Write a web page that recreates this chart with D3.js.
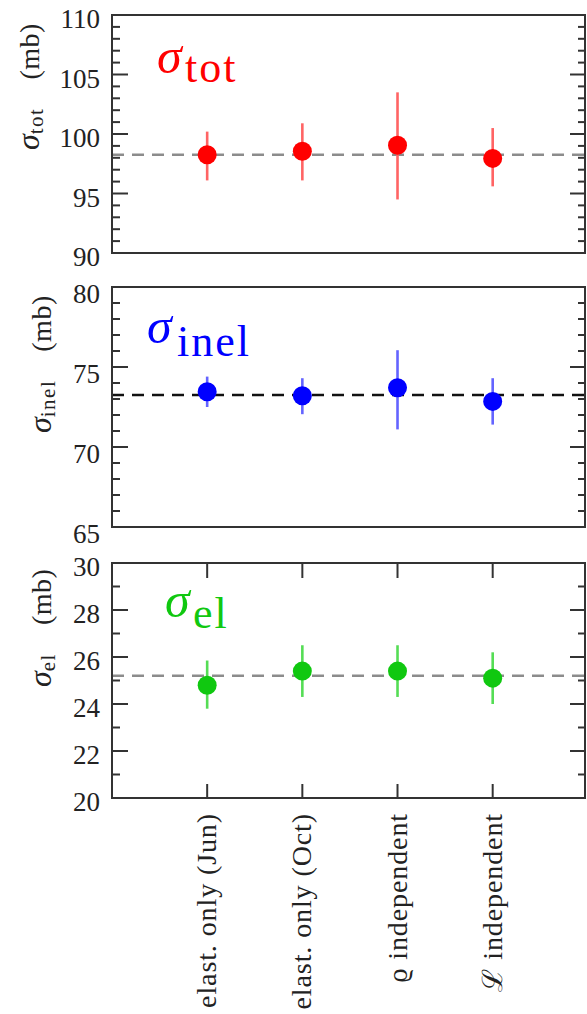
<!DOCTYPE html>
<html>
<head>
<meta charset="utf-8">
<script src="https://cdn.jsdelivr.net/npm/d3@7"></script>
<style>
  html, body { margin: 0; padding: 0; background: #fff; }
  svg { display: block; }
  text { font-family: "Liberation Serif", "DejaVu Serif", serif; fill: #222; }
</style>
</head>
<body>
<svg id="chart" width="587" height="1014"></svg>
<script>
// ---------- data ----------
const categories = ["elast. only (Jun)", "elast. only (Oct)", "ϱ independent", "ℒ independent"];
const catIndex = [1, 2, 3, 4];

const totValues = [98.25, 98.55, 99.05, 97.95];
const totHigh   = [100.2, 100.9, 103.5, 100.5];
const totLow    = [96.1, 96.1, 94.5, 95.6];
const totRef    = 98.25;
const totTicks  = [90, 95, 100, 105, 110];

const inelValues = [73.45, 73.2, 73.7, 72.85];
const inelHigh   = [74.4, 74.3, 76.05, 74.3];
const inelLow    = [72.5, 72.05, 71.1, 71.4];
const inelRef    = 73.25;
const inelTicks  = [65, 70, 75, 80];

const elValues = [24.8, 25.4, 25.4, 25.1];
const elHigh   = [25.85, 26.5, 26.5, 26.2];
const elLow    = [23.8, 24.3, 24.3, 24.0];
const elRef    = 25.2;
const elTicks  = [20, 22, 24, 26, 28, 30];

// ---------- layout ----------
const svg = d3.select("#chart");
const L = 112, R = 585;
const x = d3.scaleLinear().domain([0, 4.97]).range([L, R]);

const panels = [
  { top: 15, bottom: 253, domain: [90, 110], major: totTicks, minorStep: 1,
    values: totValues, hi: totHigh, lo: totLow, ref: totRef,
    color: "#ff0000", errColor: "#ff6464", refColor: "#8c8c8c",
    sub: "tot", labelDy: 4.5,
    big: { x: 157, y: 73, subX: 185, subY: 82 },
    ylab: { x: 39, y: 150 }, xticks: false },
  { top: 287, bottom: 527, domain: [65, 80], major: inelTicks, minorStep: 1,
    values: inelValues, hi: inelHigh, lo: inelLow, ref: inelRef,
    color: "#0000ff", errColor: "#6464ff", refColor: "#111",
    sub: "inel", labelDy: 7,
    big: { x: 147, y: 343, subX: 177, subY: 356 },
    ylab: { x: 51, y: 433 }, xticks: false },
  { top: 563, bottom: 798, domain: [20, 30], major: elTicks, minorStep: 1,
    values: elValues, hi: elHigh, lo: elLow, ref: elRef,
    color: "#10c810", errColor: "#55dd55", refColor: "#8c8c8c",
    sub: "el", labelDy: 4.5,
    big: { x: 165, y: 617, subX: 193, subY: 628 },
    ylab: { x: 51, y: 687 }, xticks: true }
];

const frameColor = "#333";

panels.forEach(p => {
  const y = d3.scaleLinear().domain(p.domain).range([p.bottom, p.top]);
  const g = svg.append("g");

  // minor ticks
  const minors = d3.range(p.domain[0], p.domain[1] + 0.001, p.minorStep)
    .filter(v => !p.major.includes(v));
  g.selectAll(".minL").data(minors).join("line")
    .attr("x1", L).attr("x2", L + 8)
    .attr("y1", d => y(d)).attr("y2", d => y(d))
    .attr("stroke", frameColor).attr("stroke-width", 2);
  g.selectAll(".minR").data(minors).join("line")
    .attr("x1", R).attr("x2", R - 7)
    .attr("y1", d => y(d)).attr("y2", d => y(d))
    .attr("stroke", frameColor).attr("stroke-width", 2);
  // major ticks
  g.selectAll(".majL").data(p.major).join("line")
    .attr("x1", L).attr("x2", L + 16)
    .attr("y1", d => y(d)).attr("y2", d => y(d))
    .attr("stroke", frameColor).attr("stroke-width", 2);
  g.selectAll(".majR").data(p.major).join("line")
    .attr("x1", R).attr("x2", R - 15)
    .attr("y1", d => y(d)).attr("y2", d => y(d))
    .attr("stroke", frameColor).attr("stroke-width", 2);

  // tick labels
  g.selectAll(".tl").data(p.major).join("text")
    .attr("x", 100).attr("y", d => y(d) + p.labelDy)
    .attr("dy", "0.33em")
    .attr("text-anchor", "end")
    .style("font-size", "27px")
    .text(d => d);

  // x ticks for bottom panel
  if (p.xticks) {
    g.selectAll(".xtT").data(catIndex).join("line")
      .attr("x1", d => x(d)).attr("x2", d => x(d))
      .attr("y1", p.top).attr("y2", p.top + 15)
      .attr("stroke", frameColor).attr("stroke-width", 2);
    g.selectAll(".xtB").data(catIndex).join("line")
      .attr("x1", d => x(d)).attr("x2", d => x(d))
      .attr("y1", p.bottom).attr("y2", p.bottom - 14)
      .attr("stroke", frameColor).attr("stroke-width", 2);
  }

  // reference dashed line
  g.append("line")
    .attr("x1", L).attr("x2", R)
    .attr("y1", y(p.ref)).attr("y2", y(p.ref))
    .attr("stroke", p.refColor).attr("stroke-width", 2.5)
    .attr("stroke-dasharray", "12,8");

  // error bars
  g.selectAll(".err").data(catIndex).join("line")
    .attr("x1", d => x(d)).attr("x2", d => x(d))
    .attr("y1", (d, i) => y(p.hi[i])).attr("y2", (d, i) => y(p.lo[i]))
    .attr("stroke", p.errColor).attr("stroke-width", 2.6);

  // points
  g.selectAll(".pt").data(catIndex).join("circle")
    .attr("cx", d => x(d)).attr("cy", (d, i) => y(p.values[i]))
    .attr("r", 9.5).attr("fill", p.color);

  // frame
  g.append("rect")
    .attr("x", L).attr("y", p.top)
    .attr("width", R - L).attr("height", p.bottom - p.top)
    .attr("fill", "none").attr("stroke", frameColor).attr("stroke-width", 2);

  // big label inside panel
  g.append("text")
    .attr("x", p.big.x).attr("y", p.big.y)
    .style("font-size", "50px").style("font-style", "italic")
    .style("fill", p.color)
    .text("σ");
  g.append("text")
    .attr("x", p.big.subX).attr("y", p.big.subY)
    .style("font-size", "44px").style("letter-spacing", "2px")
    .style("fill", p.color)
    .text(p.sub);

  // rotated y-axis label
  const yl = g.append("text")
    .attr("transform", `translate(${p.ylab.x},${p.ylab.y}) rotate(-90)`)
    .attr("text-anchor", "start");
  yl.append("tspan").style("font-size", "32px").style("font-style", "italic").text("σ");
  yl.append("tspan").style("font-size", "21px").attr("dy", 4).style("letter-spacing", "1.5px").text(p.sub);
  yl.append("tspan").style("font-size", "28px").attr("dy", -4).attr("dx", 28).style("letter-spacing", "0.5px").text("(mb)");
});

// category labels (rotated)
svg.selectAll(".cat").data(categories).join("text")
  .attr("transform", (d, i) => `translate(${x(catIndex[i]) + 9},813) rotate(-90)`)
  .attr("text-anchor", "end")
  .style("font-size", "28px")
  .style("letter-spacing", "0.9px")
  .text(d => d);
</script>
</body>
</html>
